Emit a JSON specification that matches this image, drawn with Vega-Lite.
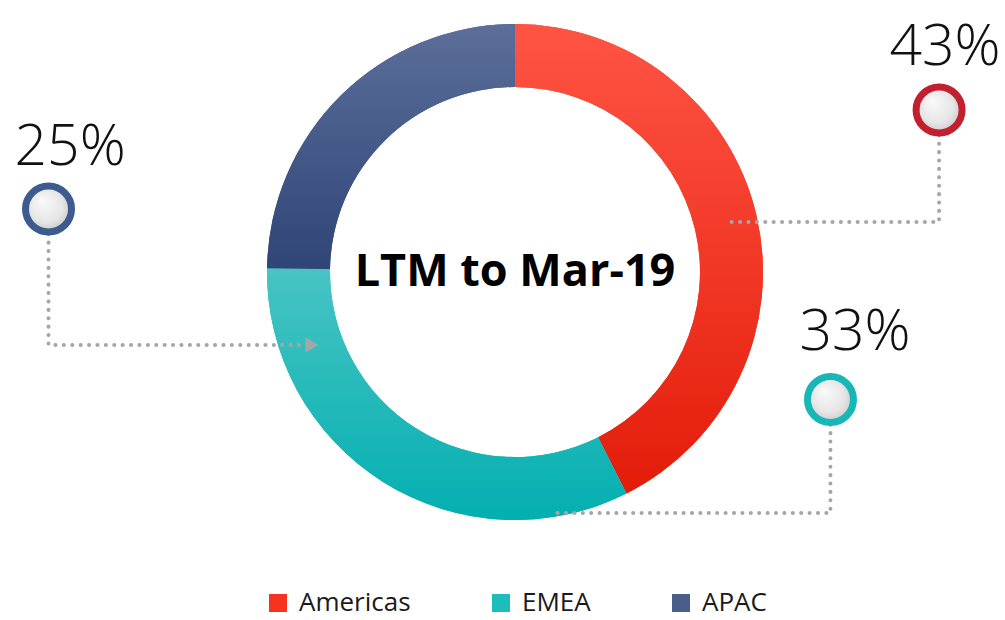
{
  "$schema": "https://vega.github.io/schema/vega-lite/v6.json",
  "width": 980,
  "height": 544,
  "autosize": {"type": "none"},
  "padding": {"left": 25, "top": 0, "right": 0, "bottom": 76},
  "background": "white",
  "config": {"view": {"stroke": null}},
  "datasets": {
    "share": [
      {"region": "Americas", "value": 43, "ord": 1},
      {"region": "EMEA", "value": 33, "ord": 2},
      {"region": "APAC", "value": 25, "ord": 3}
    ],
    "callouts": [
      {"region": "Americas", "pct": "43%", "cx": 171.0, "cy": 65.3, "lx": 173.4, "ly": 90.3},
      {"region": "EMEA", "pct": "33%", "cx": 127.2, "cy": -51.4, "lx": 137.1, "ly": -24.6},
      {"region": "APAC", "pct": "25%", "cx": -188.1, "cy": 25.4, "lx": -179.4, "ly": 50.0}
    ],
    "leaders": [
      {"region": "Americas", "step": 1, "x": 171.0, "y": 65.3},
      {"region": "Americas", "step": 2, "x": 171.0, "y": 20.2},
      {"region": "Americas", "step": 3, "x": 86.7, "y": 20.2},
      {"region": "EMEA", "step": 1, "x": 127.2, "y": -51.4},
      {"region": "EMEA", "step": 2, "x": 127.2, "y": -97.2},
      {"region": "EMEA", "step": 3, "x": 16.9, "y": -97.2},
      {"region": "APAC", "step": 1, "x": -188.1, "y": 25.4},
      {"region": "APAC", "step": 2, "x": -188.1, "y": -29.4},
      {"region": "APAC", "step": 3, "x": -85.5, "y": -29.4}
    ],
    "arrows": [
      {"region": "APAC", "x": -81.9, "y": -29.4}
    ],
    "title": [
      {"label": "LTM to Mar-19", "x": 0, "y": 0}
    ]
  },
  "layer": [
    {
      "data": {"name": "share"},
      "transform": [
        {"stack": "value", "groupby": [], "sort": [{"field": "ord"}], "as": ["v0", "v1"]}
      ],
      "mark": {"type": "arc", "outerRadius": 248, "innerRadius": 185},
      "encoding": {
        "theta": {"field": "v0", "type": "quantitative", "scale": {"domain": [0, 101]}},
        "theta2": {"field": "v1"},
        "color": {
          "field": "region", "type": "nominal",
          "scale": {"domain": ["Americas", "EMEA", "APAC"], "range": ["#F5331F", "#1EBDBD", "#4A5E8C"]},
          "legend": {
            "title": null, "orient": "none", "direction": "horizontal",
            "legendX": 240, "legendY": 590,
            "symbolType": "square", "symbolSize": 324, "symbolStrokeWidth": 0,
            "labelFont": "Open Sans", "labelFontSize": 26, "labelColor": "#1a1a1a",
            "labelOffset": 8, "columnPadding": 77, "labelLimit": 300
          }
        }
      }
    },
    {
      "data": {"name": "share"},
      "transform": [
        {"stack": "value", "groupby": [], "sort": [{"field": "ord"}], "as": ["v0", "v1"]},
        {"filter": "datum.region === 'Americas'"}
      ],
      "mark": {"type": "arc", "outerRadius": 248, "innerRadius": 185,
        "fill": {"gradient": "linear", "x1": 0, "y1": 0, "x2": 0, "y2": 1,
          "stops": [{"offset": 0, "color": "#FF5444"}, {"offset": 1, "color": "#E41C0A"}]}},
      "encoding": {
        "theta": {"field": "v0", "type": "quantitative"},
        "theta2": {"field": "v1"}
      }
    },
    {
      "data": {"name": "share"},
      "transform": [
        {"stack": "value", "groupby": [], "sort": [{"field": "ord"}], "as": ["v0", "v1"]},
        {"filter": "datum.region === 'EMEA'"}
      ],
      "mark": {"type": "arc", "outerRadius": 248, "innerRadius": 185,
        "fill": {"gradient": "linear", "x1": 0, "y1": 0, "x2": 0, "y2": 1,
          "stops": [{"offset": 0, "color": "#48C4C4"}, {"offset": 1, "color": "#03AFB0"}]}},
      "encoding": {
        "theta": {"field": "v0", "type": "quantitative"},
        "theta2": {"field": "v1"}
      }
    },
    {
      "data": {"name": "share"},
      "transform": [
        {"stack": "value", "groupby": [], "sort": [{"field": "ord"}], "as": ["v0", "v1"]},
        {"filter": "datum.region === 'APAC'"}
      ],
      "mark": {"type": "arc", "outerRadius": 248, "innerRadius": 185,
        "fill": {"gradient": "linear", "x1": 0, "y1": 0, "x2": 0, "y2": 1,
          "stops": [{"offset": 0, "color": "#5C6F9A"}, {"offset": 1, "color": "#2F4577"}]}},
      "encoding": {
        "theta": {"field": "v0", "type": "quantitative"},
        "theta2": {"field": "v1"}
      }
    },
    {
      "data": {"name": "leaders"},
      "mark": {"type": "line", "color": "#A6A6A6", "strokeWidth": 4, "strokeCap": "round", "strokeDash": [0.1, 8.3]},
      "encoding": {
        "x": {"field": "x", "type": "quantitative", "scale": {"domain": [-197.58, 197.58], "nice": false, "zero": false}, "axis": null},
        "y": {"field": "y", "type": "quantitative", "scale": {"domain": [-109.68, 109.68], "nice": false, "zero": false}, "axis": null},
        "detail": {"field": "region"},
        "order": {"field": "step"}
      }
    },
    {
      "data": {"name": "arrows"},
      "mark": {"type": "point", "shape": "triangle-right", "filled": true, "color": "#A6A6A6", "opacity": 1, "size": 230},
      "encoding": {
        "x": {"field": "x", "type": "quantitative"},
        "y": {"field": "y", "type": "quantitative"}
      }
    },
    {
      "data": {"name": "callouts"},
      "mark": {"type": "point", "shape": "circle", "filled": true, "opacity": 1, "size": 2116, "strokeWidth": 7, "strokeOpacity": 1,
        "fill": {"gradient": "radial", "x1": 0.35, "y1": 0.3, "r1": 0, "x2": 0.5, "y2": 0.5, "r2": 0.6,
          "stops": [{"offset": 0, "color": "#FAFAFA"}, {"offset": 0.6, "color": "#E6E6E6"}, {"offset": 1, "color": "#BDBDBD"}]}},
      "encoding": {
        "x": {"field": "cx", "type": "quantitative"},
        "y": {"field": "cy", "type": "quantitative"},
        "stroke": {"field": "region", "type": "nominal",
          "scale": {"domain": ["Americas", "EMEA", "APAC"], "range": ["#C3202F", "#17B7B8", "#3D5B8E"]},
          "legend": null}
      }
    },
    {
      "data": {"name": "callouts"},
      "mark": {"type": "text", "font": "Open Sans", "fontWeight": 300, "fontSize": 57, "color": "#111111", "align": "center", "baseline": "middle"},
      "encoding": {
        "x": {"field": "lx", "type": "quantitative"},
        "y": {"field": "ly", "type": "quantitative"},
        "text": {"field": "pct"}
      }
    },
    {
      "data": {"name": "title"},
      "mark": {"type": "text", "font": "Open Sans", "fontWeight": "bold", "fontSize": 45, "color": "#000000", "align": "center", "baseline": "middle"},
      "encoding": {
        "x": {"field": "x", "type": "quantitative"},
        "y": {"field": "y", "type": "quantitative"},
        "text": {"field": "label"}
      }
    }
  ]
}
